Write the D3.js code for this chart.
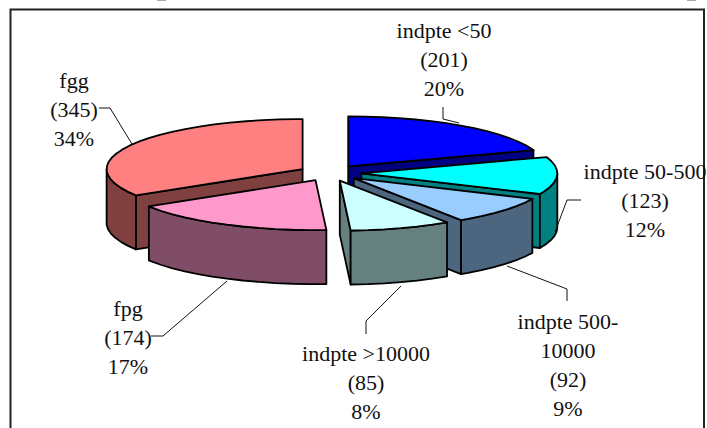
<!DOCTYPE html>
<html>
<head>
<meta charset="utf-8">
<script src="https://cdn.jsdelivr.net/npm/d3@7"></script>
<style>
  html, body { margin: 0; padding: 0; background: #fff; overflow: hidden; }
  text { font-family: "Liberation Serif", serif; font-size: 22px; fill: #111; text-anchor: middle; }
</style>
</head>
<body>
<svg id="pie" width="707" height="428"></svg>
<script>
// Chart data
const categories = ["indpte <50", "indpte 50-500", "indpte 500-10000", "indpte >10000", "fpg", "fgg"];
const counts = [201, 123, 92, 85, 174, 345];
const percents = ["20%", "12%", "9%", "8%", "17%", "34%"];
const nameLines = [["indpte <50"], ["indpte 50-500"], ["indpte 500-", "10000"], ["indpte >10000"], ["fpg"], ["fgg"]];
const topColors = ["#0000ff", "#00ffff", "#99ccff", "#ccffff", "#ff99cc", "#ff8080"];
const sideColors = ["#000080", "#008080", "#4d6680", "#668080", "#804d66", "#804040"];

// Label placement: centre x, first baseline, leader polyline
const labelX = [444, 645, 568, 366, 128, 74];
const labelY = [38, 179, 329, 361, 316, 88];
const leaders = [
  [[443, 107], [443, 119], [459, 123]],
  [[581, 200], [567, 200], [555, 232]],
  [[567, 301], [567, 289], [507, 266]],
  [[366, 334], [366, 321], [401, 286]],
  [[151, 336], [163, 336], [227, 281]],
  [[99, 108], [110, 108], [132, 144]]
];

// Pie constants
const svg = d3.select("#pie");
const centerX = 330, centerY = 173;
const radiusX = 196, radiusY = 50;
const depth = 54;
const explode = 0.16;
const lineGap = 29;
const arcStep = Math.PI / 36;

const x = d3.scaleLinear().domain([-1, 1]).range([centerX - radiusX, centerX + radiusX]);
const y = d3.scaleLinear().domain([-1, 1]).range([centerY - radiusY, centerY + radiusY]);
const line = d3.line();

const slices = d3.pie().sort(null)(counts);

// Frame (runs off the bottom of the picture) and bits of the cropped title above it
svg.append("rect")
  .attr("x", 10.5).attr("y", 9.5).attr("width", 693.5).attr("height", 440)
  .attr("fill", "#fff").attr("stroke", "#222").attr("stroke-width", 2);
[[157, 166], [687, 696]].forEach(d => {
  svg.append("line")
    .attr("x1", d[0]).attr("x2", d[1]).attr("y1", 0.5).attr("y2", 0.5)
    .attr("stroke", "#aaa");
});

/** Project a point on the pie, moved outward along the slice's middle angle */
function project(d, angle, r) {
  const mid = (d.startAngle + d.endAngle) / 2;
  return [
    x(explode * Math.sin(mid) + r * Math.sin(angle)),
    y(-explode * Math.cos(mid) - r * Math.cos(angle))
  ];
}

function rim(d, from, to) {
  const pts = d3.range(from, to, arcStep).map(a => project(d, a, 1));
  pts.push(project(d, to, 1));
  return pts;
}

const lowered = p => [p[0], p[1] + depth];

function drawFace(g, pts, fill) {
  g.append("path")
    .attr("d", line(pts) + "Z")
    .attr("fill", fill)
    .attr("stroke", "#000")
    .attr("stroke-width", 1.8)
    .attr("stroke-linejoin", "round");
}

// back slices first, fpg goes over fgg
[0, 1, 2, 3, 5, 4].forEach(i => {
  const d = slices[i];
  const g = svg.append("g").attr("class", "slice");
  const apex = project(d, 0, 0);

  // cut faces that look toward the viewer
  if (Math.sin(d.endAngle) > 0) {
    const p = project(d, d.endAngle, 1);
    drawFace(g, [apex, p, lowered(p), lowered(apex)], sideColors[i]);
  }
  if (Math.sin(d.startAngle) < 0) {
    const p = project(d, d.startAngle, 1);
    drawFace(g, [apex, p, lowered(p), lowered(apex)], sideColors[i]);
  }

  // outer wall, front half only
  const from = Math.max(d.startAngle, Math.PI / 2);
  const to = Math.min(d.endAngle, Math.PI * 1.5);
  if (to > from) {
    const wall = rim(d, from, to);
    drawFace(g, wall.concat(wall.map(lowered).reverse()), sideColors[i]);
  }

  drawFace(g, [apex].concat(rim(d, d.startAngle, d.endAngle)), topColors[i]);
});

// Leaders
svg.selectAll("path.leader").data(leaders)
  .join("path")
  .attr("class", "leader")
  .attr("d", d => line(d))
  .attr("fill", "none")
  .attr("stroke", "#111")
  .attr("stroke-width", 1);

// Labels
categories.forEach((c, i) => {
  const lines = nameLines[i].concat(["(" + counts[i] + ")", percents[i]]);
  svg.selectAll(null).data(lines)
    .join("text")
    .attr("x", labelX[i])
    .attr("y", (d, j) => labelY[i] + j * lineGap)
    .text(d => d);
});
</script>
</body>
</html>
